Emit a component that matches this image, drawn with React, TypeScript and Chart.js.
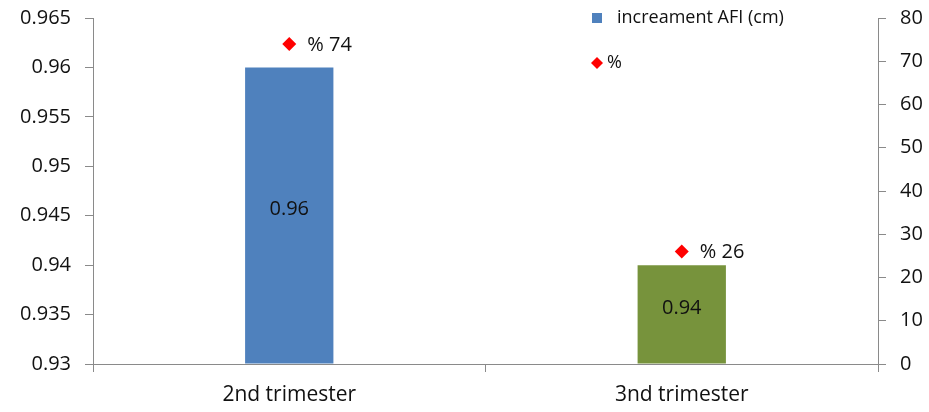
import React, { useEffect, useRef } from "react";
import { Chart, registerables } from "chart.js";

Chart.register(...registerables);

const categories = ["2nd trimester", "3nd trimester"];
const afiValues = [0.96, 0.94];
const percentValues = [74, 26];
const barColors = ["#4F81BD", "#77933C"];
const leftTicks = [0.93, 0.935, 0.94, 0.945, 0.95, 0.955, 0.96, 0.965];
const rightTicks = [0, 10, 20, 30, 40, 50, 60, 70, 80];

const FONT = "'Open Sans', Lato, sans-serif";
const TXT = "#111111";
const AXIS = "#8a8a8a";

const labelPlugin = {
  id: "labels",
  afterDatasetsDraw(chart: any) {
    const ctx = chart.ctx;
    ctx.save();
    ctx.font = `20px ${FONT}`;
    ctx.fillStyle = TXT;
    const barMeta = chart.getDatasetMeta(0);
    barMeta.data.forEach((el: any, i: number) => {
      const p = el.getProps(["x", "y", "base"], true);
      ctx.textAlign = "center";
      ctx.textBaseline = "middle";
      ctx.fillText(String(afiValues[i]), p.x, (p.y + p.base) / 2 - 6);
    });
    const ptMeta = chart.getDatasetMeta(1);
    ptMeta.data.forEach((el: any, i: number) => {
      ctx.textAlign = "left";
      ctx.textBaseline = "middle";
      ctx.fillText("% " + percentValues[i], el.x + 18, el.y + 1);
    });
    // legend
    const lx = chart.chartArea.left + 499;
    const ly = chart.chartArea.top;
    ctx.fillStyle = barColors[0];
    ctx.fillRect(lx, ly - 5, 10, 10);
    ctx.fillStyle = TXT;
    ctx.font = `18px ${FONT}`;
    ctx.fillText(chart.data.datasets[0].label, lx + 25, ly);
    ctx.fillStyle = "#FF0000";
    ctx.beginPath();
    const dx = lx + 5, dy = ly + 45, r = 6;
    ctx.moveTo(dx, dy - r);
    ctx.lineTo(dx + r, dy);
    ctx.lineTo(dx, dy + r);
    ctx.lineTo(dx - r, dy);
    ctx.closePath();
    ctx.fill();
    ctx.fillStyle = TXT;
    ctx.fillText(chart.data.datasets[1].label, lx + 15, dy);
    ctx.restore();
  },
};

const fitY = (w: number) => (s: any) => {
  s.width = w;
  s.paddingTop = 0;
  s.paddingBottom = 0;
};

export default function App() {
  const ref = useRef<HTMLCanvasElement>(null);
  useEffect(() => {
    document.body.style.margin = "0";
    const chart = new Chart(ref.current!, {
      type: "bar",
      data: {
        labels: categories,
        datasets: [
          {
            type: "bar",
            label: "increament AFI (cm)",
            data: afiValues,
            backgroundColor: barColors,
            base: 0.93,
            yAxisID: "y",
            categoryPercentage: 1,
            barPercentage: 0.225,
          } as any,
          {
            type: "line",
            label: "%",
            data: percentValues,
            yAxisID: "y1",
            showLine: false,
            pointStyle: "rectRot",
            pointRadius: 7,
            backgroundColor: "#FF0000",
            borderColor: "#FF0000",
            borderWidth: 0,
          } as any,
        ],
      },
      options: {
        animation: false,
        responsive: false,
        layout: { padding: { top: 18, left: 0, right: 0, bottom: 0 } },
        plugins: { legend: { display: false }, tooltip: { enabled: false } },
        scales: {
          x: {
            offset: true,
            grid: {
              offset: true,
              drawOnChartArea: false,
              drawTicks: true,
              tickLength: 8,
              color: AXIS,
            },
            border: { color: AXIS, width: 1 },
            ticks: { color: TXT, font: { family: FONT, size: 21 }, padding: 10 },
            afterFit: (s: any) => {
              s.height = 48;
              s.paddingLeft = 0;
              s.paddingRight = 0;
            },
          },
          y: {
            position: "left",
            min: 0.93,
            max: 0.965,
            afterBuildTicks: (s: any) => { s.ticks = leftTicks.map((v) => ({ value: v })); },
            grid: { drawOnChartArea: false, tickLength: 8, color: AXIS },
            border: { color: AXIS, width: 1 },
            ticks: {
              color: TXT,
              font: { family: FONT, size: 20 },
              padding: 14,
              callback: (v: any) => String(Number(Number(v).toFixed(3))),
            },
            afterFit: fitY(93),
          },
          y1: {
            position: "right",
            min: 0,
            max: 80,
            afterBuildTicks: (s: any) => { s.ticks = rightTicks.map((v) => ({ value: v })); },
            grid: { drawOnChartArea: false, tickLength: 8, color: AXIS },
            border: { color: AXIS, width: 1 },
            ticks: { color: TXT, font: { family: FONT, size: 20 }, padding: 14 },
            afterFit: fitY(51),
          },
        },
      },
      plugins: [labelPlugin],
    });
    return () => chart.destroy();
  }, []);
  return (
    <div style={{ width: 929, height: 412, background: "#fff" }}>
      <canvas ref={ref} width={929} height={412} />
    </div>
  );
}
